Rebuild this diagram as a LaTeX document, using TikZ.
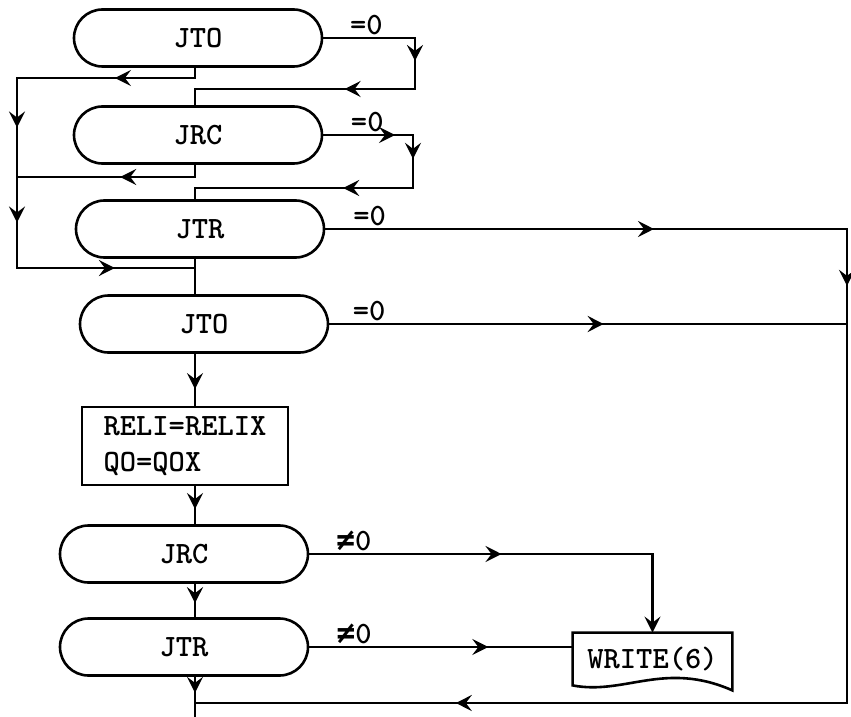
\documentclass[tikz,border=0pt]{standalone}
\usepackage{fontspec}
\newfontfamily\symfont{DejaVu Sans Mono}
\usepackage{tikz}
\usetikzlibrary{arrows.meta,positioning,shapes.misc,calc,decorations.markings}

\begin{document}
\begin{tikzpicture}[
  x=0.5pt, y=-0.5pt,
  term/.style={rounded rectangle, draw, line width=1.3pt, minimum width=124pt, minimum height=28.5pt, inner sep=0pt, font=\ttfamily\bfseries\fontsize{15.5}{18}\selectfont},
  proc/.style={rectangle, draw, line width=1.3pt, align=left, minimum width=103pt, minimum height=39pt, font=\ttfamily\bfseries\fontsize{15.5}{18}\selectfont},
  doc/.style={rectangle, minimum width=79.5pt, minimum height=26pt, inner sep=0pt, font=\ttfamily\bfseries\fontsize{15.5}{18}\selectfont},
  lbl/.style={above, inner sep=0.8pt, font=\ttfamily\bfseries\fontsize{15.5}{18}\selectfont},
  line/.style={line width=1.3pt, line cap=rect},
  mid/.style={postaction={decorate}, decoration={markings, mark=at position #1 with {\arrow{Stealth[length=8pt,width=8pt,inset=3pt]}}}}
]
\useasboundingbox (0,0) rectangle (851,717);
\coordinate (sp) at (195,0);

\node[term] (jto1) at (198,38) {JTO};
\node[term] (jrc1) at (198,135) {JRC};
\node[term] (jtr1) at (200,229) {JTR};
\node[term] (jto2) at (204,324) {JTO};
\node[proc] (set) at (185,446) {RELI=RELIX\\QO=QOX};
\node[term] (jrc2) at (184,554) {JRC};
\node[term] (jtr2) at (184,647) {JTR};
\node[doc] (write) at (652.5,659) {WRITE(6)};
\draw[line] (write.north west) -- (write.north east) -- ($(write.south east)+(0,5)$)
  .. controls ($(write.south west)+(92,-25)$) and ($(write.south west)+(52,10)$) .. (write.south west) -- cycle;

% left loop
\coordinate (a1) at (195,78);
\coordinate (l1) at (17,78);
\coordinate (l2) at (17,177);
\coordinate (l3) at (17,268);
\coordinate (a3) at (195,268);
\draw[line] (jto1.south -| sp) -- (a1);
\draw[line, mid=0.45] (a1) -- (l1);
\draw[line, mid=0.5] (l1) -- (l2);
\draw[line, mid=0.5] (l2) -- (l3);
\draw[line, mid=0.55] (l3) -- (a3);

% =0 of first JTO
\coordinate (b1) at (415,38);
\coordinate (b2) at (415,89);
\coordinate (b3) at (195,89);
\draw[line] (jto1.east) -- node[lbl, pos=0.47] (eq1) {=0} (b1);
\draw[line, mid=0.45] (b1) -- (b2);
\draw[line, mid=0.32] (b2) -- (b3);
\draw[line] (b3) -- (jrc1.north -| sp);

% JRC
\coordinate (c1) at (195,177);
\draw[line] (jrc1.south -| sp) -- (c1);
\draw[line, mid=0.42] (c1) -- (l2);
\coordinate (d1) at (413,135);
\coordinate (d2) at (413,188);
\coordinate (d3) at (195,188);
\draw[line, mid=0.8] (jrc1.east) -- node[lbl, pos=0.49] (eq2) {=0} (d1);
\draw[line, mid=0.45] (d1) -- (d2);
\draw[line, mid=0.32] (d2) -- (d3);
\draw[line] (d3) -- (jtr1.north -| sp);

% JTR and second JTO
\draw[line] (jtr1.south -| sp) -- (jto2.north -| sp);
\coordinate (r1) at (847,229);
\coordinate (r2) at (847,703);
\coordinate (r3) at (195,703);
\draw[line, mid=0.63] (jtr1.east) -- node[lbl, pos=0.085] (eq3) {=0} (r1);
\draw[line, mid=0.12] (r1) -- (r2);
\draw[line, mid=0.6] (r2) -- (r3);
\draw[line, mid=0.53] (jto2.east) -- node[lbl, pos=0.077] (eq4) {=0} (jto2.east -| r1);

% main line
\draw[line, mid=0.68] (jto2.south -| sp) -- (set.north -| sp);
\draw[line, mid=0.6] (set.south -| sp) -- (jrc2.north -| sp);
\draw[line, mid=0.58] (jrc2.south -| sp) -- (jtr2.north -| sp);
\coordinate (out) at (195,717);
\draw[line, mid=0.4] (jtr2.south -| sp) -- (out);

% WRITE(6)
\coordinate (w1) at (write.north |- jrc2.east);
\draw[line, mid=0.56] (jrc2.east) -- node[lbl, pos=0.13] (ne1) {{\symfont ≠}0} (w1);
\draw[line, -{Stealth[length=8pt,width=8pt,inset=3pt]}] (w1) -- (write.north);
\draw[line, mid=0.68] (jtr2.east) -- node[lbl, pos=0.17] (ne2) {{\symfont ≠}0} (jtr2.east -| write.west);
\end{tikzpicture}
\end{document}
